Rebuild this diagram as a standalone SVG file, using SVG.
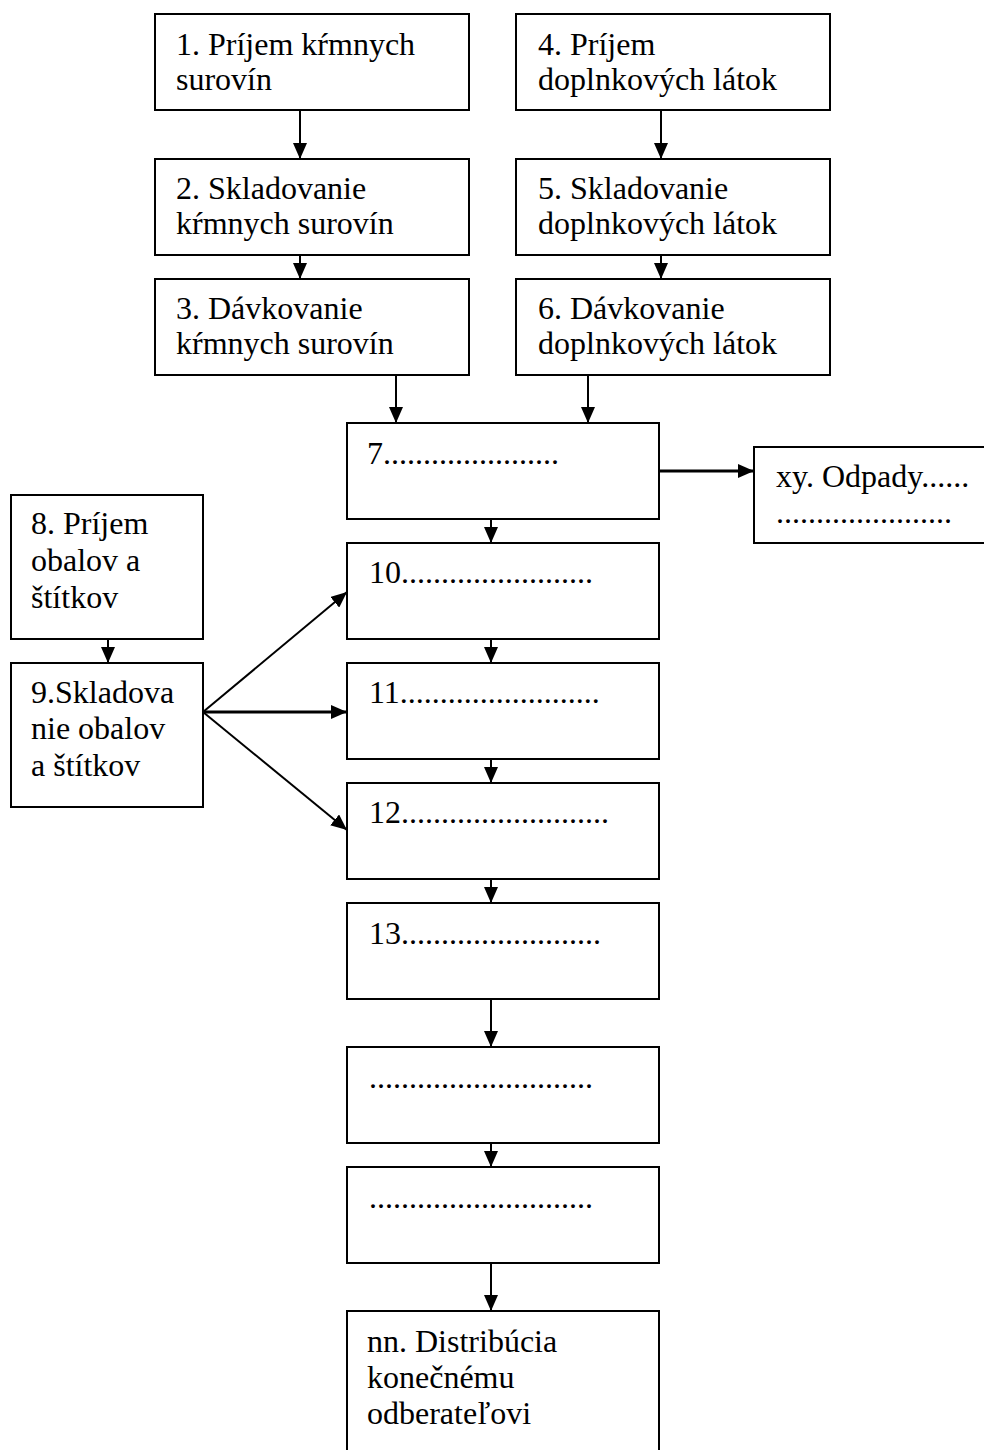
<svg xmlns="http://www.w3.org/2000/svg" width="984" height="1450" viewBox="0 0 984 1450">
<style>
.box{fill:#fff;stroke:#000;stroke-width:2}
.t{font-family:"Liberation Serif","Times New Roman",serif;font-size:32px;fill:#000}
.c{stroke:#000;stroke-width:2;fill:none;marker-end:url(#ah)}
.ct{stroke:#000;stroke-width:3;fill:none;marker-end:url(#ah)}
</style>
<defs>
<marker id="ah" markerUnits="userSpaceOnUse" markerWidth="16" markerHeight="14" viewBox="0 0 16 14" refX="16" refY="7" orient="auto">
<path d="M0,0 L16,7 L0,14 Z" fill="#000"/>
</marker>
</defs>
<rect width="984" height="1450" fill="#fff"/>
<g id="connectors">
<line class="c" x1="300" y1="110" x2="300" y2="159"/>
<line class="c" x1="300" y1="255" x2="300" y2="279"/>
<line class="c" x1="661" y1="110" x2="661" y2="159"/>
<line class="c" x1="661" y1="255" x2="661" y2="279"/>
<line class="c" x1="396" y1="375" x2="396" y2="423"/>
<line class="c" x1="588" y1="375" x2="588" y2="423"/>
<line class="ct" x1="659" y1="471" x2="754" y2="471"/>
<line class="c" x1="108" y1="639" x2="108" y2="663"/>
<line class="c" x1="491" y1="519" x2="491" y2="543"/>
<line class="c" x1="491" y1="639" x2="491" y2="663"/>
<line class="c" x1="491" y1="759" x2="491" y2="783"/>
<line class="c" x1="491" y1="879" x2="491" y2="903"/>
<line class="c" x1="491" y1="999" x2="491" y2="1047"/>
<line class="c" x1="491" y1="1143" x2="491" y2="1167"/>
<line class="c" x1="491" y1="1263" x2="491" y2="1311"/>
<line class="c" x1="203" y1="712" x2="347" y2="592"/>
<line class="ct" x1="203" y1="712" x2="347" y2="712"/>
<line class="c" x1="203" y1="712" x2="347" y2="830"/>
</g>
<g id="n1"><rect class="box" x="155" y="14" width="314" height="96"/><text class="t" x="176" y="55">1. Príjem kŕmnych</text><text class="t" x="176" y="90">surovín</text></g>
<g id="n2"><rect class="box" x="155" y="159" width="314" height="96"/><text class="t" x="176" y="199">2. Skladovanie</text><text class="t" x="176" y="234">kŕmnych surovín</text></g>
<g id="n3"><rect class="box" x="155" y="279" width="314" height="96"/><text class="t" x="176" y="319">3. Dávkovanie</text><text class="t" x="176" y="354">kŕmnych surovín</text></g>
<g id="n4"><rect class="box" x="516" y="14" width="314" height="96"/><text class="t" x="538" y="55">4. Príjem</text><text class="t" x="538" y="90">doplnkových látok</text></g>
<g id="n5"><rect class="box" x="516" y="159" width="314" height="96"/><text class="t" x="538" y="199">5. Skladovanie</text><text class="t" x="538" y="234">doplnkových látok</text></g>
<g id="n6"><rect class="box" x="516" y="279" width="314" height="96"/><text class="t" x="538" y="319">6. Dávkovanie</text><text class="t" x="538" y="354">doplnkových látok</text></g>
<g id="n7"><rect class="box" x="347" y="423" width="312" height="96"/><text class="t" x="367" y="464">7......................</text></g>
<g id="nxy"><rect class="box" x="754" y="447" width="260" height="96"/><text class="t" x="776" y="487">xy. Odpady......</text><text class="t" x="776" y="523">......................</text></g>
<g id="n8"><rect class="box" x="11" y="495" width="192" height="144"/><text class="t" x="31" y="534">8. Príjem</text><text class="t" x="31" y="571">obalov a</text><text class="t" x="31" y="608">štítkov</text></g>
<g id="n9"><rect class="box" x="11" y="663" width="192" height="144"/><text class="t" x="31" y="703">9.Skladova</text><text class="t" x="31" y="739">nie obalov</text><text class="t" x="31" y="776">a štítkov</text></g>
<g id="n10"><rect class="box" x="347" y="543" width="312" height="96"/><text class="t" x="369" y="583">10........................</text></g>
<g id="n11"><rect class="box" x="347" y="663" width="312" height="96"/><text class="t" x="369" y="703">11.........................</text></g>
<g id="n12"><rect class="box" x="347" y="783" width="312" height="96"/><text class="t" x="369" y="823">12..........................</text></g>
<g id="n13"><rect class="box" x="347" y="903" width="312" height="96"/><text class="t" x="369" y="944">13.........................</text></g>
<g id="na"><rect class="box" x="347" y="1047" width="312" height="96"/><text class="t" x="369" y="1088">............................</text></g>
<g id="nb"><rect class="box" x="347" y="1167" width="312" height="96"/><text class="t" x="369" y="1208">............................</text></g>
<g id="nnn"><rect class="box" x="347" y="1311" width="312" height="200"/><text class="t" x="367" y="1352">nn. Distribúcia</text><text class="t" x="367" y="1388">konečnému</text><text class="t" x="367" y="1424">odberateľovi</text></g>
</svg>
